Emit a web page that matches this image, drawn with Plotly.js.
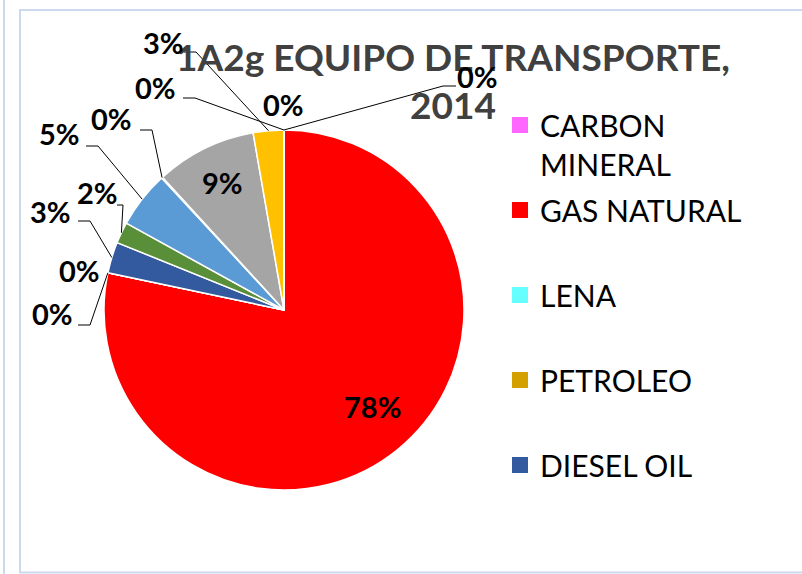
<!DOCTYPE html>
<html>
<head>
<meta charset="utf-8">
<script src="https://cdn.plot.ly/plotly-3.0.1.min.js"></script>
<style>html,body{margin:0;padding:0;background:#fff;}#chart{width:802px;height:574px;}</style>
</head>
<body>
<div id="chart"></div>
<script>
// ---- data ----
const categories = ['CARBON MINERAL','GAS NATURAL','LENA','PETROLEO','DIESEL OIL','GASOLINA','GLP','KEROSENE','ELECTRICIDAD','FUEL OIL','BAGAZO','OTROS'];
const values = [0, 78.35, 0, 0, 2.8, 1.9, 5.1, 0.1, 9.05, 2.75, 0, 0];
const sliceColors = ['#FF66FF','#FF0000','#66FFFF','#D4A000','#335A9F','#5A8F3A','#5B9BD5','#ED7D31','#A5A5A5','#FFC000','#4472C4','#70AD47'];
const legendCategories = ['CARBON MINERAL','GAS NATURAL','LENA','PETROLEO','DIESEL OIL'];
const legendLabels = ['CARBON<br>MINERAL','GAS NATURAL<br>&nbsp;','LENA<br>&nbsp;','PETROLEO<br>&nbsp;','DIESEL OIL<br>&nbsp;'];
const titleText = '1A2g EQUIPO DE TRANSPORTE,<br>2014';

// ---- layout (pixels) ----
const W = 802, H = 574;
const PIE = {cx: 284, cy: 310, r: 180};
// label centres per slice, and optional leader elbow [x1,y1,x2,y2] (label side first)
const labelPos = [[478,76],[372,407],[79,270],[52,314],[51,211],[97,192],[59,134],[111,119],[222,183],[163,43],[283,105],[155,88]];
const leaders = [[456,86,443,86], null, null, [78,325,90,325], [78,221,90,221], [117,205,123,205], [86,146,98,146], [140,130,152,130], null, [184,52,196,52], null, [183,98,195,98]];

const X = px => px / W;
const Y = py => 1 - py / H;

const total = values.reduce((a, b) => a + b, 0);
let cum = 0;
const midAngles = values.map(v => { const a = (cum + v / 2) / total * 360; cum += v; return a; });
const edgePt = a => { const t = a * Math.PI / 180; return [PIE.cx + PIE.r * Math.sin(t), PIE.cy - PIE.r * Math.cos(t)]; };

const annotations = values.map((v, i) => ({
  xref: 'paper', yref: 'paper', x: X(labelPos[i][0]), y: Y(labelPos[i][1]),
  xanchor: 'center', yanchor: 'middle', showarrow: false,
  text: '<b>' + Math.round(v / total * 100) + '%</b>',
  font: {family: 'Lato, "Open Sans", sans-serif', size: 29, color: '#000000'}
}));

const shapes = [
  {type: 'line', xref: 'paper', yref: 'paper', x0: X(4), x1: X(4), y0: 0, y1: 1, line: {color: '#CCD9EE', width: 2}, layer: 'below'},
  {type: 'rect', xref: 'paper', yref: 'paper', x0: X(20), x1: X(812), y0: Y(572.5), y1: Y(10), line: {color: '#CCD9EE', width: 2}, layer: 'below'}
];
leaders.forEach((l, i) => {
  if (!l) return;
  const e = edgePt(midAngles[i]);
  shapes.push({type: 'path', xref: 'paper', yref: 'paper',
    path: 'M' + X(l[0]) + ',' + Y(l[1]) + ' L' + X(l[2]) + ',' + Y(l[3]) + ' L' + X(e[0]) + ',' + Y(e[1]),
    line: {color: '#000000', width: 1}});
});

const pieTrace = {
  type: 'pie', labels: categories, values: values, sort: false, direction: 'clockwise', rotation: 0,
  marker: {colors: sliceColors, line: {color: '#FFFFFF', width: 1.5}},
  textinfo: 'none', hoverinfo: 'label+percent', showlegend: false,
  domain: {x: [X(PIE.cx - PIE.r), X(PIE.cx + PIE.r)], y: [Y(PIE.cy + PIE.r), Y(PIE.cy - PIE.r)]}
};

const legendTraces = legendCategories.map((c, i) => ({
  type: 'scatter', mode: 'markers', x: [null], y: [null], name: legendLabels[i], legendgroup: 'g' + i,
  marker: {symbol: 'square', size: 16, color: sliceColors[categories.indexOf(c)], line: {width: 0}},
  hoverinfo: 'skip'
}));

const layout = {
  width: W, height: H, margin: {l: 0, r: 0, t: 0, b: 0},
  paper_bgcolor: '#FFFFFF', plot_bgcolor: 'rgba(0,0,0,0)',
  xaxis: {visible: false}, yaxis: {visible: false},
  title: {text: '<b>' + titleText + '</b>', x: X(453), xref: 'paper', xanchor: 'center', y: Y(71), yref: 'container', yanchor: 'top',
    font: {family: 'Lato, "Open Sans", sans-serif', size: 37, color: '#404040'}},
  showlegend: true,
  legend: {x: X(500), y: Y(99), xanchor: 'left', yanchor: 'top', valign: 'top', tracegroupgap: 4,
    bgcolor: 'rgba(0,0,0,0)', font: {family: 'Lato, "Open Sans", sans-serif', size: 30, color: '#000000'}},
  annotations: annotations, shapes: shapes
};

Plotly.newPlot('chart', [pieTrace].concat(legendTraces), layout, {displayModeBar: false, staticPlot: true});
</script>
</body>
</html>
